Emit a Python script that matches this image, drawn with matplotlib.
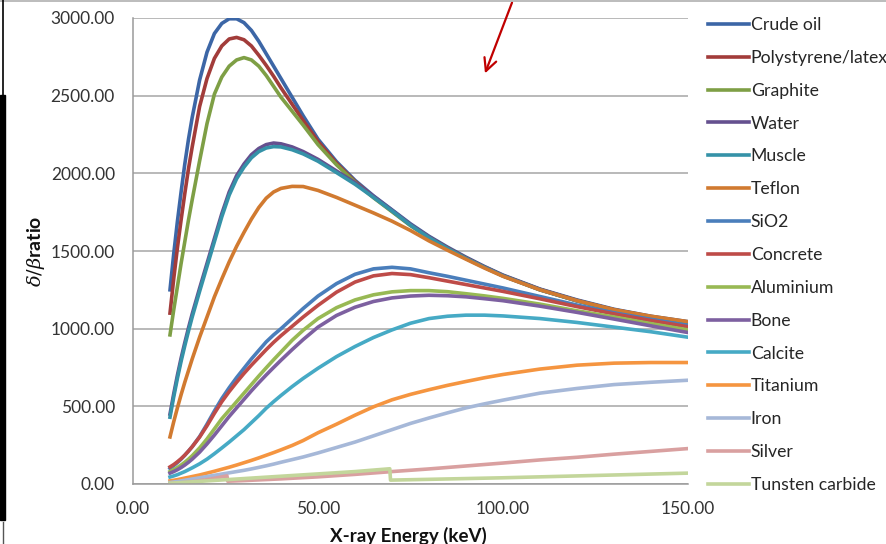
import matplotlib
matplotlib.use("Agg")
import matplotlib.pyplot as plt
import matplotlib.ticker as mticker
from matplotlib.lines import Line2D
from matplotlib.patches import Rectangle

plt.rcParams["font.family"] = ["Lato", "DejaVu Sans"]
plt.rcParams["mathtext.fontset"] = "dejavuserif"

# energy grid (keV)
energy = [10, 11, 12, 13, 14, 15, 16, 18, 20, 22, 24, 26, 28, 30, 32, 34, 36, 38, 40, 43, 46,
          50, 55, 60, 65, 70, 75, 80, 85, 90, 95, 100, 110, 120, 130, 140, 150]

crude_oil = [1250, 1480, 1690, 1880, 2060, 2220, 2360, 2600, 2780, 2900, 2965, 2995, 2995, 2970,
             2920, 2850, 2770, 2690, 2610, 2490, 2370, 2220, 2075, 1955, 1855, 1765, 1675, 1595,
             1525, 1460, 1400, 1345, 1255, 1185, 1125, 1080, 1045]
polystyrene = [1100, 1320, 1520, 1700, 1870, 2030, 2170, 2430, 2610, 2740, 2820, 2865, 2875, 2860,
               2820, 2760, 2695, 2625, 2550, 2445, 2340, 2205, 2065, 1948, 1848, 1758, 1668, 1590,
               1520, 1456, 1397, 1342, 1253, 1182, 1122, 1077, 1042]
graphite = [960, 1120, 1270, 1420, 1560, 1700, 1830, 2080, 2320, 2510, 2620, 2690, 2730, 2745,
            2730, 2690, 2630, 2560, 2490, 2400, 2310, 2185, 2055, 1943, 1843, 1753, 1663, 1585,
            1515, 1452, 1394, 1340, 1250, 1180, 1120, 1074, 1040]
water = [450, 580, 700, 810, 910, 1005, 1095, 1260, 1420, 1580, 1740, 1880, 1985, 2060,
         2120, 2160, 2185, 2195, 2190, 2170, 2140, 2090, 2015, 1940, 1852, 1762, 1670, 1590,
         1518, 1454, 1396, 1341, 1251, 1180, 1119, 1074, 1038]
muscle = [430, 560, 680, 790, 890, 985, 1075, 1240, 1400, 1560, 1720, 1860, 1965, 2040,
          2100, 2140, 2163, 2172, 2170, 2152, 2125, 2078, 2005, 1930, 1845, 1758, 1666, 1586,
          1516, 1452, 1394, 1339, 1250, 1178, 1118, 1072, 1036]
teflon = [303, 400, 490, 575, 655, 730, 805, 945, 1075, 1205, 1320, 1430, 1530, 1620,
          1705, 1780, 1840, 1880, 1903, 1916, 1915, 1890, 1845, 1795, 1745, 1692, 1632, 1565,
          1505, 1447, 1390, 1337, 1250, 1180, 1122, 1080, 1045]
sio2 = [100, 118, 138, 160, 185, 212, 240, 305, 385, 470, 550, 620, 685, 745,
        805, 860, 915, 960, 1000, 1065, 1130, 1210, 1290, 1350, 1385, 1395, 1385, 1360,
        1337, 1312, 1287, 1262, 1207, 1152, 1102, 1060, 1020]
concrete = [110, 125, 143, 163, 186, 212, 240, 302, 375, 455, 530, 595, 655, 712,
            765, 815, 865, 912, 955, 1015, 1075, 1150, 1235, 1300, 1340, 1355, 1348, 1328,
            1306, 1284, 1262, 1240, 1192, 1142, 1095, 1052, 1012]
aluminium = [80, 92, 106, 122, 140, 160, 182, 232, 290, 355, 420, 475, 530, 585,
             640, 695, 748, 800, 850, 925, 990, 1065, 1135, 1185, 1218, 1237, 1245, 1245,
             1238, 1225, 1211, 1195, 1158, 1115, 1075, 1032, 992]
bone = [70, 80, 92, 106, 122, 140, 160, 205, 258, 315, 375, 435, 490, 545,
        600, 652, 702, 750, 797, 865, 930, 1010, 1085, 1138, 1175, 1198, 1210, 1215,
        1212, 1205, 1193, 1180, 1145, 1105, 1062, 1018, 975]
calcite = [45, 52, 60, 70, 80, 92, 104, 130, 160, 195, 232, 270, 310, 350,
           395, 440, 488, 530, 570, 627, 680, 745, 820, 885, 943, 992, 1035, 1065,
           1080, 1087, 1087, 1082, 1065, 1040, 1010, 980, 945]
titanium = [20, 24, 28, 33, 38, 43, 48, 58, 70, 82, 95, 108, 122, 137,
            152, 168, 185, 202, 220, 248, 280, 330, 385, 443, 497, 542, 577, 607,
            635, 660, 684, 705, 740, 765, 778, 782, 782]
iron = [10, 13, 16, 20, 24, 28, 32, 40, 48, 56, 64, 72, 80, 88,
        97, 107, 117, 128, 140, 157, 174, 200, 235, 270, 310, 350, 390, 425,
        458, 490, 516, 540, 585, 615, 640, 655, 668]

# silver and tungsten carbide have absorption edges
silver_energy = [10, 15, 20, 25.4, 25.6, 30, 40, 50, 60, 70, 80, 90, 100, 110, 120, 130, 140, 150]
silver = [3, 12, 28, 52, 18, 22, 33, 46, 62, 80, 97, 116, 135, 155, 172, 192, 210, 228]
wc_energy = [10, 20, 30, 40, 50, 60, 69.4, 69.6, 80, 90, 100, 110, 120, 130, 140, 150]
tungsten_carbide = [5, 20, 35, 50, 65, 80, 98, 25, 30, 35, 40, 46, 52, 58, 64, 70]

names = ["Crude oil", "Polystyrene/latex", "Graphite", "Water", "Muscle", "Teflon",
         "SiO2", "Concrete", "Aluminium", "Bone", "Calcite", "Titanium", "Iron",
         "Silver", "Tunsten carbide"]
colors = ["#3C66A6", "#A23C3A", "#7E9F45", "#65508F", "#3592A8", "#D17A30",
          "#4A7EBB", "#BE4B48", "#98B954", "#7D60A0", "#46AAC5", "#F59540",
          "#A6B8D8", "#D9A0A0", "#C3D69B"]

series = [(energy, crude_oil), (energy, polystyrene), (energy, graphite), (energy, water),
          (energy, muscle), (energy, teflon), (energy, sio2), (energy, concrete),
          (energy, aluminium), (energy, bone), (energy, calcite), (energy, titanium),
          (energy, iron), (silver_energy, silver), (wc_energy, tungsten_carbide)]

fig = plt.figure(figsize=(8.87, 5.44), dpi=100)
ax = fig.add_axes([133 / 887, 1 - 484 / 544, (688 - 133) / 887, (484 - 18) / 544])

for (xs, ys), name, c in zip(series, names, colors):
    ax.plot(xs, ys, color=c, lw=2.6, label=name, solid_joinstyle="round")

ax.set_xlim(0, 150)
ax.set_ylim(0, 3000)
ax.set_xticks([0, 50, 100, 150])
ax.set_yticks(range(0, 3001, 500))
ax.xaxis.set_major_formatter(mticker.FormatStrFormatter("%.2f"))
ax.yaxis.set_major_formatter(mticker.FormatStrFormatter("%.2f"))
ax.tick_params(length=0, labelsize=12.5, labelcolor="#333333")
ax.tick_params(axis="y", pad=13)
ax.tick_params(axis="x", pad=12)
ax.grid(axis="y", color="#A6A6A6", lw=1.1)
ax.set_axisbelow(True)
for s in ["top", "right"]:
    ax.spines[s].set_visible(False)
for s in ["left", "bottom"]:
    ax.spines[s].set_color("#9A9A9A")
    ax.spines[s].set_linewidth(1.1)

fig.text(408 / 887, 1 - 536 / 544, "X-ray Energy (keV)", ha="center", va="center",
         fontsize=13.5, fontweight="bold", color="#111111")
fig.text(36 / 887, 1 - 251 / 544, r"$\delta/\beta$ratio", ha="center", va="center",
         rotation=90, fontsize=14, fontweight="bold", color="#111111")

ax.legend(loc="center left", bbox_to_anchor=(708 / 887, 1 - 255 / 544),
          bbox_transform=fig.transFigure, frameon=False, fontsize=12.7,
          handlelength=2.32, handletextpad=0.1, labelspacing=0.955,
          borderpad=0, borderaxespad=0, labelcolor="#262626")

# screenshot artefacts: top border, black bar at left, red arrow
fig.add_artist(Line2D([0, 1], [1 - 1 / 544, 1 - 1 / 544], transform=fig.transFigure,
                      color="#B0B0B0", lw=1.2))
fig.add_artist(Line2D([3 / 887, 3 / 887], [1, 1 - 95 / 544], transform=fig.transFigure,
                      color="black", lw=1.2))
fig.add_artist(Rectangle((0, 1 - 520 / 544), 5 / 887, 425 / 544, transform=fig.transFigure,
                         color="black"))
fig.add_artist(Line2D([3 / 887, 3 / 887], [1 - 522 / 544, 0], transform=fig.transFigure,
                      color="#555555", lw=1))
ax.annotate("", xy=(484 / 887, 1 - 76 / 544), xytext=(513 / 887, 1.0),
            xycoords="figure fraction", textcoords="figure fraction",
            arrowprops=dict(arrowstyle="->,head_length=0.9,head_width=0.45",
                            color="#C00000", lw=1.6), annotation_clip=False)

fig.savefig("out.png", dpi=100)
